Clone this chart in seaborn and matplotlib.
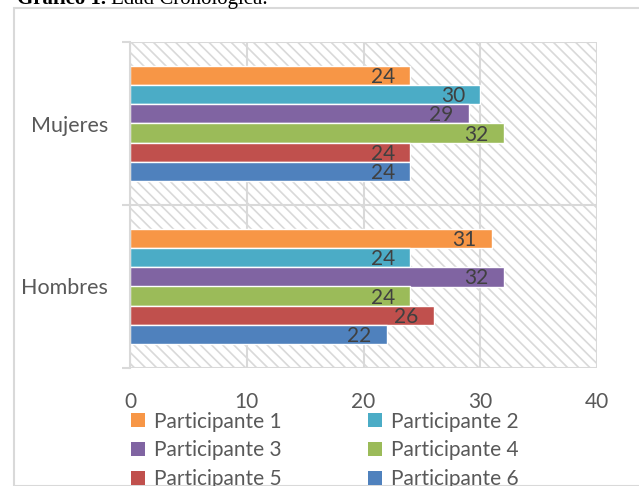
import matplotlib
matplotlib.use('Agg')
import matplotlib.pyplot as plt
import seaborn as sns
import pandas as pd
from matplotlib.patches import Rectangle, Patch

groups = ['Mujeres', 'Hombres']
participants = ['Participante 1', 'Participante 2', 'Participante 3',
                'Participante 4', 'Participante 5', 'Participante 6']
mujeres = [24, 30, 29, 32, 24, 24]
hombres = [31, 24, 32, 24, 26, 22]
colors = ['#F79646', '#4BACC6', '#8064A2', '#9BBB59', '#C0504D', '#4F81BD']
xticks = [0, 10, 20, 30, 40]

rows = []
for g, vals in zip(groups, [mujeres, hombres]):
    for p, v in zip(participants, vals):
        rows.append(dict(grupo=g, participante=p, edad=v))
df = pd.DataFrame(rows)

sns.set_theme(style='white')
plt.rcParams['font.family'] = ['Lato', 'DejaVu Sans']
plt.rcParams['hatch.color'] = '#d9d9d9'
plt.rcParams['hatch.linewidth'] = 1.2

grid_c = '#d9d9d9'
text_c = '#595959'

fig = plt.figure(figsize=(6.39, 4.86), dpi=100)
W, H = 639, 486

# outer frame
fig.add_artist(Rectangle((13.5 / W, 0), 1 - 13.5 / W + 0.01, 1 - 8.5 / H,
                         transform=fig.transFigure, facecolor='none',
                         edgecolor=grid_c, lw=1.5, zorder=0))

# title (partially cut off at top)
t1 = fig.text(17 / W, 1 - 4 / H, 'Gráfico 1. ', family='Liberation Serif', weight='bold',
              fontsize=15, va='baseline', ha='left', color='black')
fig.canvas.draw()
bb = t1.get_window_extent(fig.canvas.get_renderer())
fig.text(bb.x1 / W, 1 - 4 / H, 'Edad Cronológica.', family='Liberation Serif',
         fontsize=15, va='baseline', ha='left', color='black')

ax = fig.add_axes([130 / W, 1 - 368 / H, 467 / W, 326 / H])
ax.add_patch(Rectangle((0, 0), 1, 1, transform=ax.transAxes, facecolor='white',
                       edgecolor='#d9d9d9', hatch='\\\\\\', lw=0, zorder=0.1))

sns.barplot(data=df, y='grupo', x='edad', hue='participante', order=groups,
            hue_order=participants, palette=colors, orient='h', width=0.71,
            saturation=1, errorbar=None, ax=ax, legend=False, zorder=2)

ax.set_xlim(0, 40)
ax.set_ylim(1.5, -0.5)
ax.set_xticks(xticks)
ax.set_xticklabels([str(t) for t in xticks])
ax.set_xlabel('')
ax.set_ylabel('')
ax.set_axisbelow(True)
ax.grid(axis='x', color=grid_c, lw=1.5, zorder=0.5)
ax.set_yticks([-0.5, 0.5, 1.5], minor=True)
ax.grid(axis='y', which='minor', color=grid_c, lw=1.5, zorder=0.5)
ax.tick_params(axis='y', which='minor', length=6, width=1.5, color=grid_c, left=True)
ax.tick_params(axis='y', which='major', length=0, pad=16, labelsize=15.5, labelcolor=text_c)
ax.tick_params(axis='x', which='major', length=0, pad=17, labelsize=15, labelcolor=text_c)
for s in ['top', 'right', 'bottom']:
    ax.spines[s].set_visible(False)
ax.spines['left'].set_color(grid_c)
ax.spines['left'].set_linewidth(1.5)
ax.spines['left'].set_zorder(3)

for cont in ax.containers:
    for bar in cont:
        w = bar.get_width()
        ax.annotate(f'{w:.0f}', (w, bar.get_y() + bar.get_height() / 2),
                    xytext=(-11, -1), textcoords='offset points', ha='right',
                    va='center', fontsize=15, color='#404040', zorder=4)

handles = [Patch(facecolor=c, edgecolor='none') for c in colors]
order = [0, 2, 4, 1, 3, 5]
fig.legend([handles[i] for i in order], [participants[i] for i in order],
           ncol=2, loc='upper left',
           bbox_to_anchor=(116 / W, 1 - 397 / H), frameon=False, fontsize=15,
           labelcolor=text_c, handlelength=0.67, handleheight=0.67,
           handletextpad=0.45, columnspacing=4.15, labelspacing=0.42,
           borderpad=0.2)

fig.savefig('out.png', dpi=100)
